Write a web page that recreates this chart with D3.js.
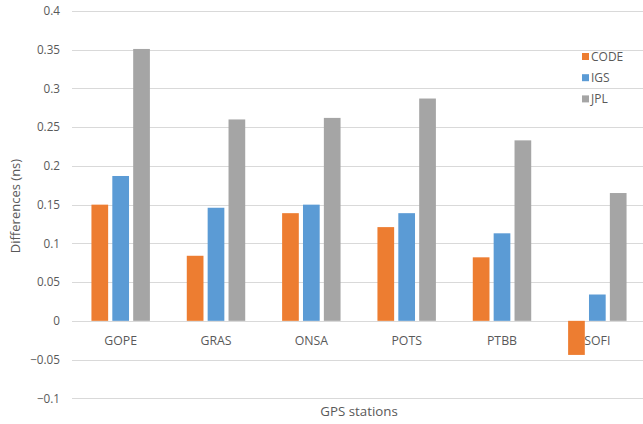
<!DOCTYPE html>
<html><head><meta charset="utf-8">
<script src="https://cdn.jsdelivr.net/npm/d3@7"></script>
<style>body{margin:0;background:#fff}svg{display:block;font-family:"Open Sans",sans-serif}</style>
</head><body>
<script>
const categories = ["GOPE","GRAS","ONSA","POTS","PTBB","SOFI"];
const seriesNames = ["CODE","IGS","JPL"];
const codeValues = [0.150,0.084,0.139,0.121,0.082,-0.044];
const igsValues  = [0.187,0.146,0.150,0.139,0.113,0.034];
const jplValues  = [0.351,0.260,0.262,0.287,0.233,0.165];
const yTicks = [-0.1,-0.05,0,0.05,0.1,0.15,0.2,0.25,0.3,0.35,0.4];
const colors = ["#ED7D31","#5B9BD5","#A5A5A5"];

const W=643,H=424;
const svg=d3.select("body").append("svg").attr("width",W).attr("height",H);
const y=d3.scaleLinear().domain([-0.1,0.4]).range([398.3,11]);
const x0=d3.scaleBand().domain(categories).range([73,645]).paddingInner(0.387).paddingOuter(0.1935);
const x1=d3.scaleBand().domain(seriesNames).range([0,x0.bandwidth()]).paddingInner(0.2).paddingOuter(0);
const vals=[codeValues,igsValues,jplValues];

// gridlines
svg.append("g").selectAll("line").data(yTicks).join("line")
  .attr("x1",72).attr("x2",W).attr("y1",d=>Math.round(y(d))+0.5).attr("y2",d=>Math.round(y(d))+0.5)
  .attr("stroke","#D9D9D9").attr("stroke-width",1);

// y axis labels
const yAxis=d3.axisLeft(y).tickValues(yTicks).tickSize(0).tickPadding(0).tickFormat(d=>d3.format("")(+d.toFixed(2)));
const ga=svg.append("g").attr("transform","translate(60,0)").call(yAxis);
ga.select(".domain").remove();
ga.selectAll("text").attr("fill","#595959").style("font-size","11.7px").style("font-family","'Open Sans',sans-serif");

// x axis labels
const xAxis=d3.axisBottom(x0).tickSize(0).tickPadding(0);
const gx=svg.append("g").attr("transform",`translate(0,${y(0)+15})`).call(xAxis);
gx.select(".domain").remove();
gx.selectAll("text").attr("fill","#595959").style("font-size","12.3px").style("font-family","'Open Sans',sans-serif");

// bars
const groups=svg.append("g").selectAll("g").data(categories).join("g")
  .attr("transform",d=>`translate(${x0(d)},0)`);
groups.selectAll("rect").data((d,i)=>seriesNames.map((s,j)=>({s,j,v:vals[j][i]}))).join("rect")
  .attr("x",d=>x1(d.s)).attr("width",x1.bandwidth())
  .attr("y",d=>y(Math.max(0,d.v))).attr("height",d=>Math.abs(y(d.v)-y(0)))
  .attr("fill",d=>colors[d.j]);

// axis titles
svg.append("text").attr("x",359).attr("y",416).attr("text-anchor","middle")
  .attr("fill","#595959").style("font-size","13.3px").text("GPS stations");
svg.append("text").attr("transform","translate(20,206) rotate(-90)").attr("text-anchor","middle")
  .attr("fill","#595959").style("font-size","13px").text("Differences (ns)");

// legend
const lg=svg.append("g").selectAll("g").data(seriesNames).join("g")
  .attr("transform",(d,i)=>`translate(582,${56.5+i*21.2})`);
lg.append("rect").attr("x",0).attr("y",-3.5).attr("width",7).attr("height",7).attr("fill",(d,i)=>colors[i]);
lg.append("text").attr("x",9).attr("y",4.3).attr("fill","#595959").style("font-size","12px").text(d=>d);
</script>
</body></html>
